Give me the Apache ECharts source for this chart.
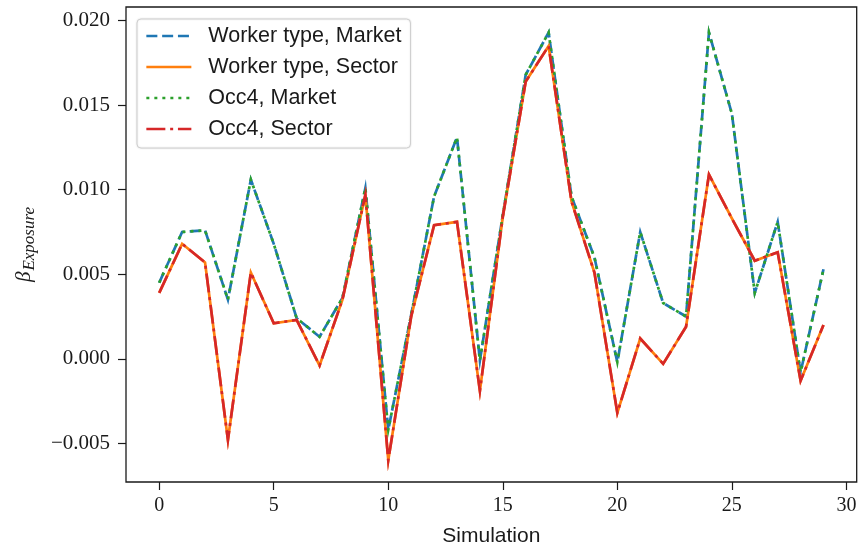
<!DOCTYPE html>
<html>
<head>
<meta charset="utf-8">
<script src="https://cdn.jsdelivr.net/npm/echarts@6/dist/echarts.min.js"></script>
<style>html,body{margin:0;padding:0;background:#fff;}#c{width:861px;height:552px;}</style>
</head>
<body>
<div id="c"></div>
<script>
const simulations = Array.from({length: 30}, (_, i) => i);
const workerTypeMarket = [0.0045, 0.0075, 0.0076, 0.0035, 0.0106, 0.0068, 0.0024, 0.0013, 0.0036, 0.0101,
  -0.0042, 0.0026, 0.0096, 0.0131, -0.0001, 0.0085, 0.0168, 0.0193, 0.0096, 0.0060,
  -0.0002, 0.0075, 0.0033, 0.0025, 0.0193, 0.0145, 0.0039, 0.0081, -0.0008, 0.0053];
const workerTypeSector = [0.0039, 0.0068, 0.0057, -0.0048, 0.0051, 0.0021, 0.0023, -0.0004, 0.0035, 0.0097,
  -0.0060, 0.0025, 0.0079, 0.0081, -0.0019, 0.0084, 0.0164, 0.0185, 0.0093, 0.0051,
  -0.0032, 0.0012, -0.0003, 0.0019, 0.0109, 0.0083, 0.0058, 0.0063, -0.0013, 0.0020];
const occ4Market = [0.0045, 0.0075, 0.0076, 0.0035, 0.0106, 0.0068, 0.0024, 0.0013, 0.0036, 0.0101,
  -0.0042, 0.0026, 0.0096, 0.0131, -0.0001, 0.0085, 0.0168, 0.0193, 0.0096, 0.0060,
  -0.0002, 0.0075, 0.0033, 0.0025, 0.0193, 0.0145, 0.0039, 0.0081, -0.0008, 0.0053];
const occ4Sector = [0.0039, 0.0068, 0.0057, -0.0048, 0.0051, 0.0021, 0.0023, -0.0004, 0.0035, 0.0097,
  -0.0060, 0.0025, 0.0079, 0.0081, -0.0019, 0.0084, 0.0164, 0.0185, 0.0093, 0.0051,
  -0.0032, 0.0012, -0.0003, 0.0019, 0.0109, 0.0083, 0.0058, 0.0063, -0.0013, 0.0020];
const seriesNames = ['Worker type, Market', 'Worker type, Sector', 'Occ4, Market', 'Occ4, Sector'];
const xTicks = [0, 5, 10, 15, 20, 25, 30];
const yTicks = [-0.005, 0.000, 0.005, 0.010, 0.015, 0.020];

const LW = 2.7;
function pairs(arr) { return arr.map((v, i) => [simulations[i], v]); }
function mk(name, data, color, dash) {
  return {
    name: name, type: 'line', data: pairs(data), symbol: 'none', showSymbol: false,
    lineStyle: { color: color, width: LW, type: dash, cap: 'butt', join: 'miter' },
    itemStyle: { color: color },
    emphasis: { disabled: true }, animation: false
  };
}
const chart = echarts.init(document.getElementById('c'), null, { renderer: 'canvas' });
chart.setOption({
  animation: false,
  backgroundColor: '#fff',
  grid: { left: 126, right: 4.3, top: 7, bottom: 69.3, show: true, borderColor: '#1a1a1a', borderWidth: 1.3, backgroundColor: 'transparent' },
  legend: {
    left: 137, top: 19,
    orient: 'vertical',
    data: seriesNames,
    itemWidth: 45, itemHeight: 14, itemGap: 9,
    padding: [6, 9, 8, 8],
    backgroundColor: '#fff',
    borderColor: '#d0d0d0', borderWidth: 1, borderRadius: 4,
    shadowColor: 'rgba(0,0,0,0.12)', shadowBlur: 2,
    itemStyle: { opacity: 0 },
    lineStyle: { width: 2.7 },
    textStyle: { fontFamily: 'Liberation Sans', fontSize: 21.5, color: '#1a1a1a', lineHeight: 22, padding: [0, 0, 0, 12] },
    selectedMode: false
  },
  xAxis: {
    type: 'value', min: -1.45, max: 30.45,
    name: 'Simulation', nameLocation: 'middle', nameGap: 44,
    nameTextStyle: { fontFamily: 'Liberation Sans', fontSize: 21, color: '#1a1a1a' },
    axisLine: { show: false, onZero: false },
    splitLine: { show: false },
    axisTick: { show: true, inside: false, length: 8, lineStyle: { color: '#1a1a1a', width: 1.2 }, customValues: xTicks },
    axisLabel: { margin: 14, fontFamily: 'Liberation Serif', fontSize: 20, color: '#1a1a1a', customValues: xTicks,
      formatter: v => String(Math.round(v)) }
  },
  yAxis: {
    type: 'value', min: -0.00729, max: 0.02081,
    name: '{b|β}{s|Exposure}', nameLocation: 'middle', nameGap: 88, nameRotate: 90,
    nameTextStyle: {
      rich: {
        b: { fontFamily: 'Liberation Serif', fontStyle: 'italic', fontSize: 21, color: '#1a1a1a' },
        s: { fontFamily: 'Liberation Serif', fontStyle: 'italic', fontSize: 17, color: '#1a1a1a', padding: [10, 0, 0, 1] }
      }
    },
    axisLine: { show: false, onZero: false },
    splitLine: { show: false },
    axisTick: { show: true, inside: false, length: 8, lineStyle: { color: '#1a1a1a', width: 1.2 }, customValues: yTicks },
    axisLabel: { margin: 16, fontFamily: 'Liberation Serif', fontSize: 21, color: '#1a1a1a', customValues: yTicks,
      formatter: v => (v < -1e-9 ? '\u2212' : '') + Math.abs(v).toFixed(3) }
  },
  series: [
    mk(seriesNames[0], workerTypeMarket, '#1f77b4', [11, 4.8]),
    mk(seriesNames[1], workerTypeSector, '#ff7f0e', 'solid'),
    mk(seriesNames[2], occ4Market, '#2ca02c', [3, 5]),
    mk(seriesNames[3], occ4Sector, '#d62728', [19, 4.8, 3, 4.8])
  ]
});
</script>
</body>
</html>
